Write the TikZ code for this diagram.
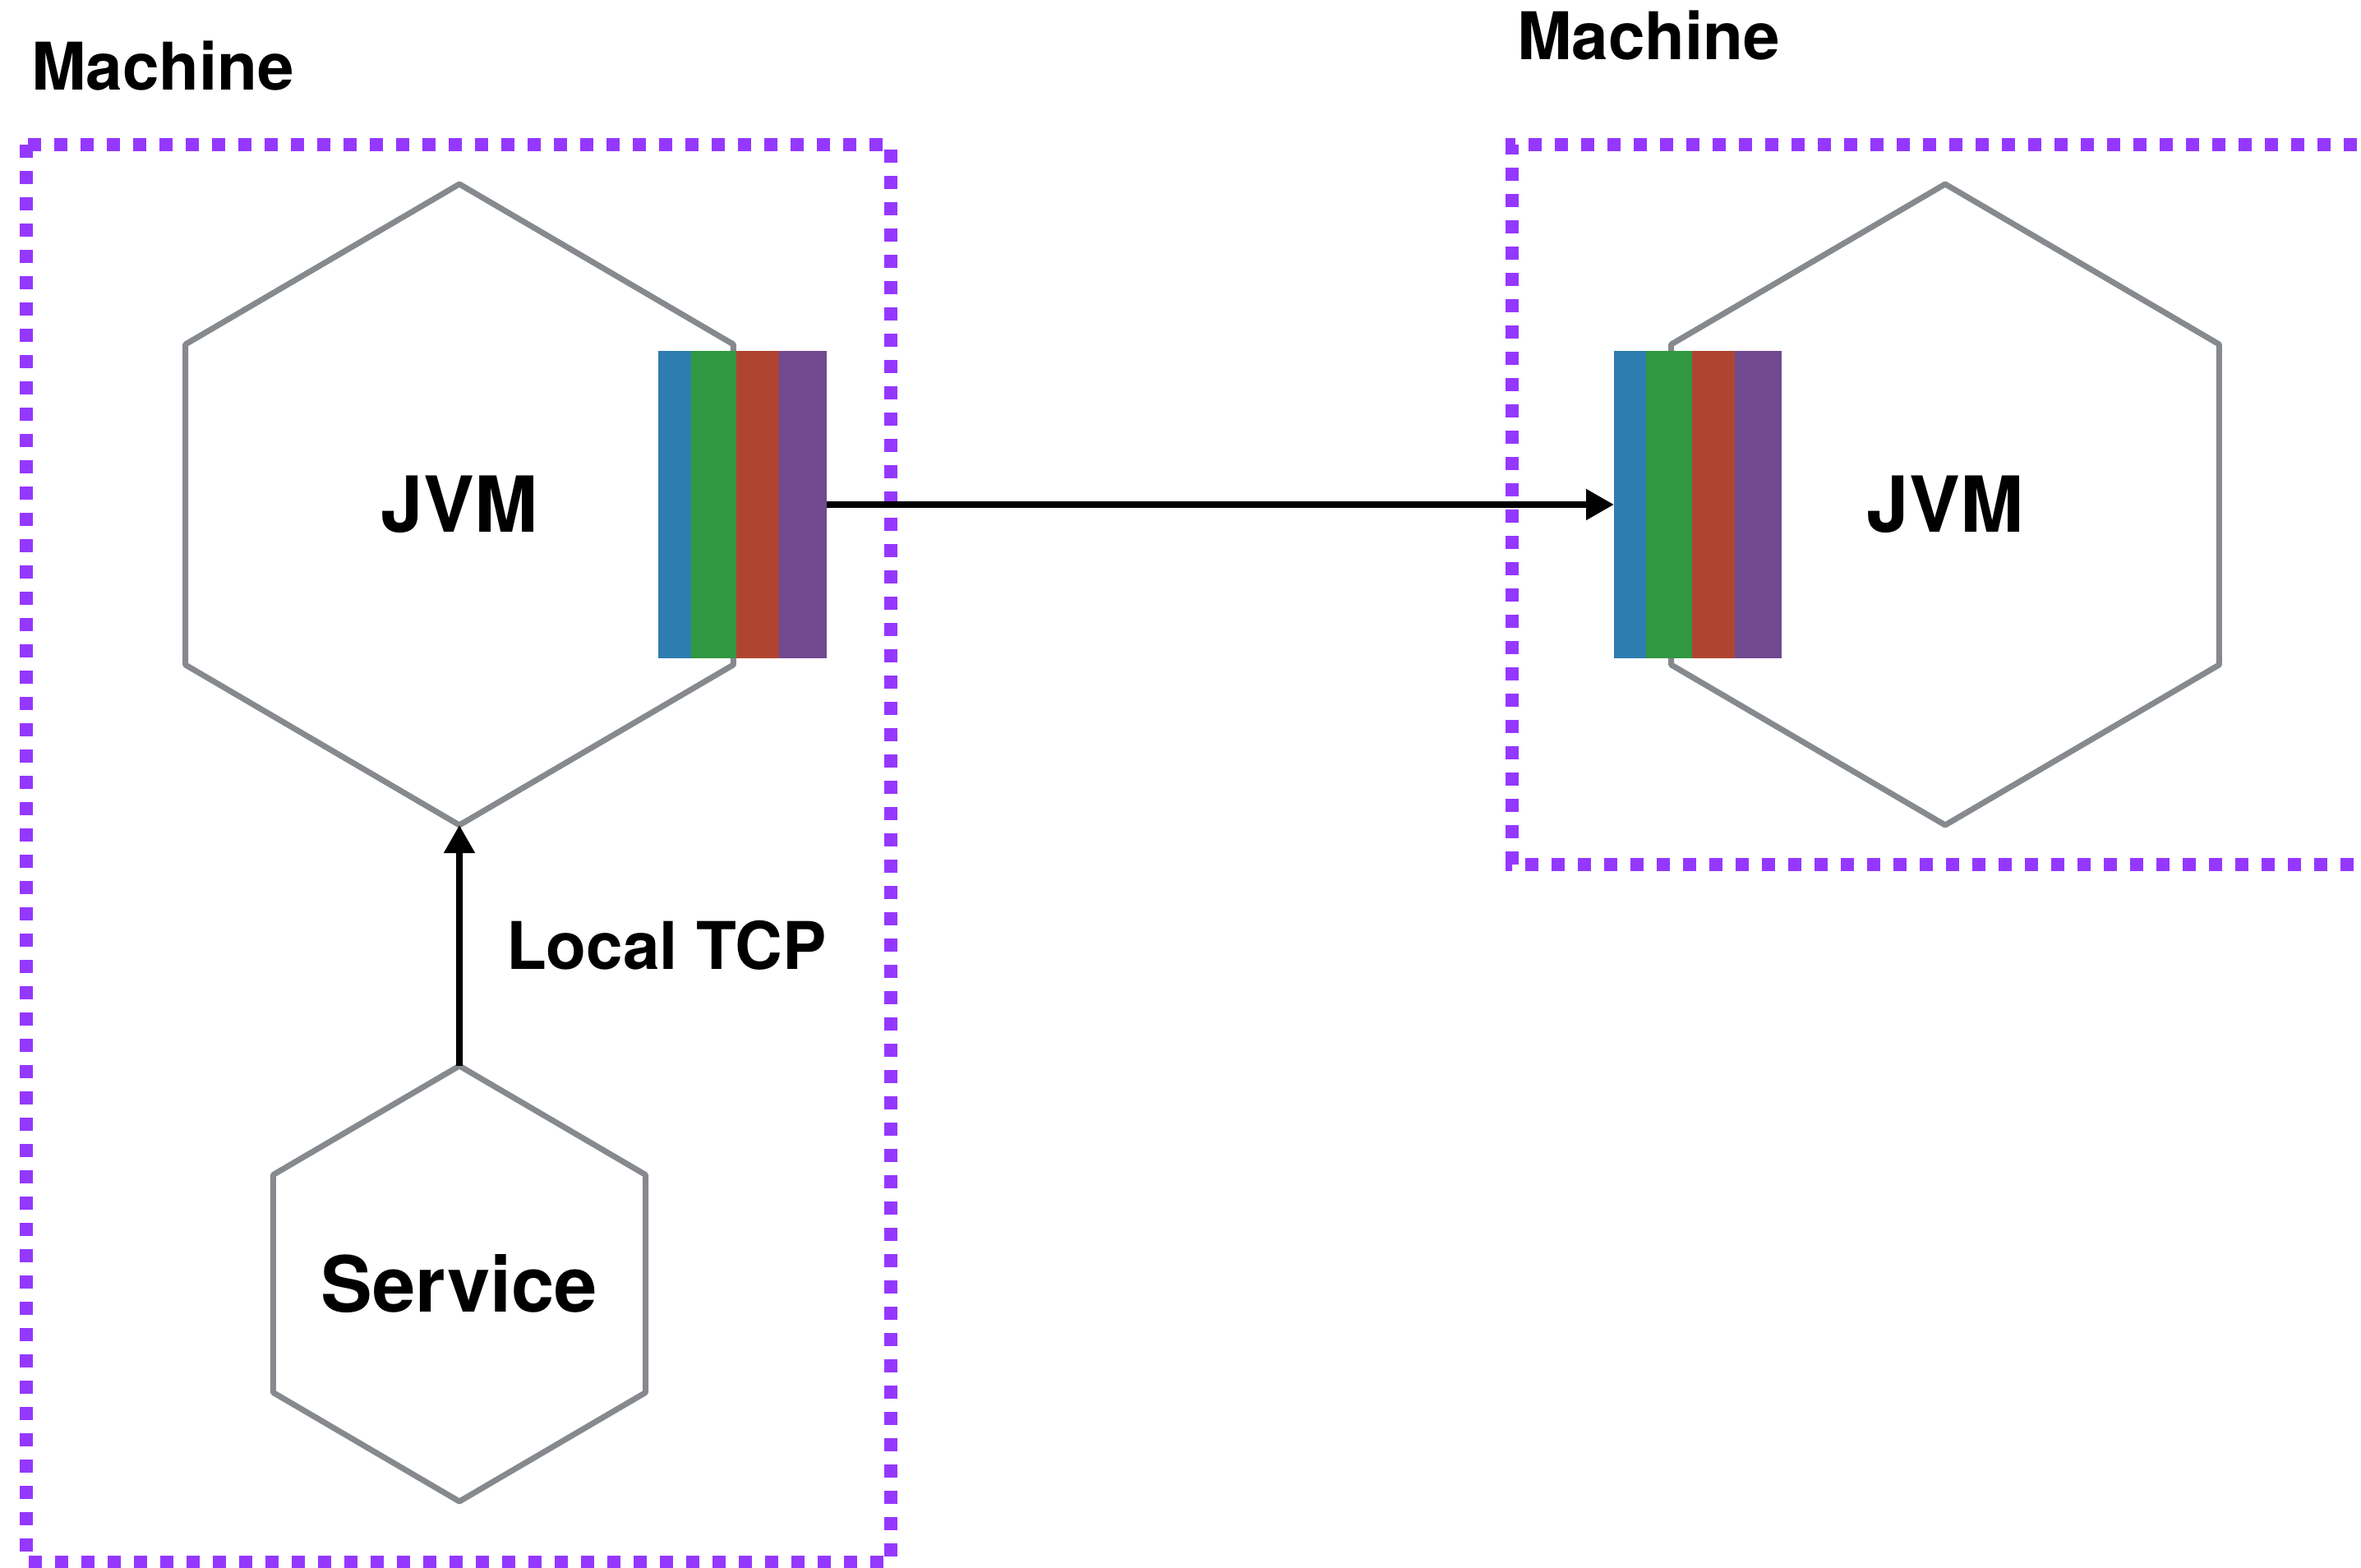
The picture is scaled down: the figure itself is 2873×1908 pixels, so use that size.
\documentclass[tikz,border=0pt]{standalone}
\usepackage{fontspec}
\setmainfont{TeX Gyre Heros}
\usetikzlibrary{shapes.geometric,arrows.meta}
\definecolor{dotpurple}{RGB}{149,56,255}
\definecolor{hexgray}{RGB}{134,137,141}
\definecolor{sblue}{RGB}{46,125,176}
\definecolor{sgreen}{RGB}{48,152,65}
\definecolor{sred}{RGB}{176,68,50}
\definecolor{spurple}{RGB}{113,73,143}
\tikzset{
  machinebox/.style={draw=dotpurple, line width=16pt, dash pattern=on 16pt off 16pt},
  hexfont/.style={font=\fontsize{94}{100}\selectfont\bfseries},
  hexnode/.style={regular polygon, regular polygon sides=6, shape border rotate=30,
    draw=hexgray, line width=7pt, inner sep=0pt, outer sep=0pt, line join=round,
    xscale=0.987, transform shape, hexfont},
  stripe/.style={rectangle, inner sep=0pt, outer sep=0pt, minimum height=374pt},
  lbl/.style={inner sep=0pt, outer sep=0pt, font=\fontsize{80}{90}\selectfont\bfseries},
  conn/.style={draw=black, line width=8pt, -{Triangle[length=34pt,width=36pt]}},
}
\begin{document}
\begin{tikzpicture}[x=1pt,y=-1pt]
\useasboundingbox (0,0) rectangle (2873,1908);
\clip (0,0) rectangle (2873,1908);
\fill[white] (0,0) rectangle (2873,1908);

% machine boxes
\draw[machinebox] (32,176) rectangle (1084,1901);
\draw[machinebox] (2900,176) -- (1840,176) -- (1840,1052) -- (2900,1052);

% labels
\node[lbl, anchor=base west] (mL) at (38,110) {Machine};
\node[lbl, anchor=base west] (mR) at (1846,73) {Machine};
\node[lbl, anchor=base west] (tcp) at (616,1179) {Local TCP};

% hexagons
\node[hexnode, minimum size=780pt] (jvmL) at (559,614) {JVM};
\node[hexnode, minimum size=780pt] (jvmR) at (2367,614) {JVM};
\node[hexnode, minimum size=530pt, label={[hexfont, inner sep=0pt]center:Service}] (svc) at (559,1562) {};

% stripes left
\node[stripe, fill=sblue,   minimum width=40pt] (bL) at (821,614) {};
\node[stripe, fill=sgreen,  minimum width=55pt] (gL) at (868.5,614) {};
\node[stripe, fill=sred,    minimum width=52pt] (rL) at (922,614) {};
\node[stripe, fill=spurple, minimum width=58pt] (pL) at (977,614) {};
% stripes right
\node[stripe, fill=sblue,   minimum width=39pt] (bR) at (1983.5,614) {};
\node[stripe, fill=sgreen,  minimum width=56pt] (gR) at (2031,614) {};
\node[stripe, fill=sred,    minimum width=52pt] (rR) at (2085,614) {};
\node[stripe, fill=spurple, minimum width=57pt] (pR) at (2139.5,614) {};

% connectors
\draw[conn] (pL.east) -- (bR.west);
\draw[conn] (svc.90) -- (jvmL.270);
\end{tikzpicture}
\end{document}
